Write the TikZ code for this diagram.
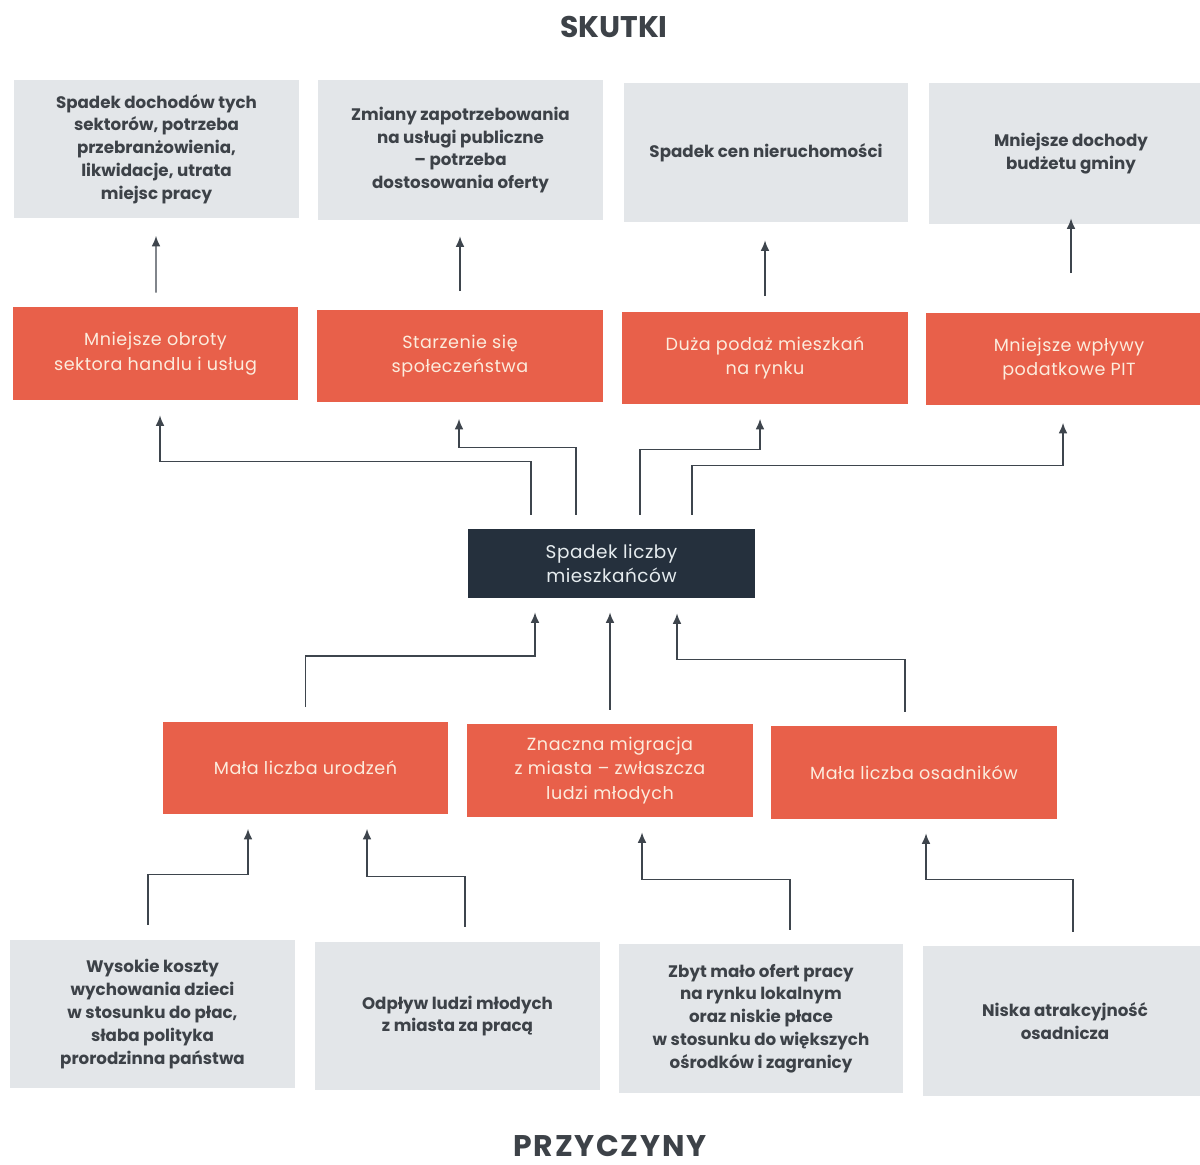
\documentclass[tikz,border=0pt]{standalone}
\usepackage{fontspec}
\setmainfont{Poppins}
\usetikzlibrary{arrows.meta,calc}
\definecolor{boxgray}{HTML}{E3E6E9}
\definecolor{boxred}{HTML}{E8604A}
\definecolor{boxdark}{HTML}{25303D}
\definecolor{txtgray}{HTML}{3D4248}
\definecolor{txtlight}{HTML}{FCECDD}
\definecolor{txtdark}{HTML}{E6ECEF}
\definecolor{linec}{HTML}{3E454D}
\begin{document}
\begin{tikzpicture}[x=0.02cm,y=-0.02cm,
  graybox/.style={fill=boxgray, text=txtgray, minimum width=5.7cm, align=center, inner sep=0pt,
    font=\fontsize{9.5}{13}\selectfont\bfseries},
  redbox/.style={fill=boxred, text=txtlight, minimum width=5.72cm, minimum height=1.86cm, align=center, inner sep=0pt,
    font=\fontsize{10}{14}\selectfont\addfontfeatures{LetterSpace=3}},
  darkbox/.style={fill=boxdark, text=txtdark, minimum width=5.74cm, minimum height=1.38cm, align=center, inner sep=0pt,
    font=\fontsize{10.5}{13.5}\selectfont\addfontfeatures{LetterSpace=3}},
  arr/.style={draw=linec, line width=0.85pt, -{Latex[length=6pt,width=5pt]}},
  title/.style={text=txtgray, font=\fontsize{17}{20}\selectfont\bfseries}]
\useasboundingbox[fill=white] (0,0) rectangle (1200,1165);

% titles
\node[title] (skutki) at (614,27) {SKUTKI};
\node[title, font=\fontsize{17}{20}\selectfont\bfseries\addfontfeatures{LetterSpace=6}] (przyczyny) at (610,1146) {PRZYCZYNY};

% top effects
\node[graybox, minimum height=2.78cm] (G1) at (156.5,149) {Spadek dochodów tych\\sektorów, potrzeba\\przebranżowienia,\\likwidacje, utrata\\miejsc pracy};
\node[graybox, minimum height=2.8cm] (G2) at (460.5,150) {Zmiany zapotrzebowania\\na usługi publiczne\\– potrzeba\\dostosowania oferty};
\node[graybox, minimum height=2.78cm] (G3) at (766,152.5) {Spadek cen nieruchomości};
\node[graybox, minimum height=2.82cm] (G4) at (1071,153.5) {Mniejsze dochody\\budżetu gminy};

% red row 1
\node[redbox] (R1) at (155.5,353.5) {Mniejsze obroty\\sektora handlu i usług};
\node[redbox] (R2) at (460,356) {Starzenie się\\społeczeństwa};
\node[redbox] (R3) at (765,358) {Duża podaż mieszkań\\na rynku};
\node[redbox] (R4) at (1069,359) {Mniejsze wpływy\\podatkowe PIT};

% center
\node[darkbox] (D) at (611.5,563.5) {Spadek liczby\\mieszkańców};

% red row 2
\node[redbox] (B1) at (305.5,768) {Mała liczba urodzeń};
\node[redbox] (B2) at (610,770.5) {Znaczna migracja\\z miasta – zwłaszcza\\ludzi młodych};
\node[redbox] (B3) at (914,772.5) {Mała liczba osadników};

% bottom causes
\node[graybox, minimum height=2.96cm] (C1) at (152.5,1014) {Wysokie koszty\\wychowania dzieci\\w stosunku do płac,\\słaba polityka\\prorodzinna państwa};
\node[graybox, minimum height=2.96cm] (C2) at (457.5,1016) {Odpływ ludzi młodych\\z miasta za pracą};
\node[graybox, minimum height=2.98cm] (C3) at (761,1018.5) {Zbyt mało ofert pracy\\na rynku lokalnym\\oraz niskie płace\\w stosunku do większych\\ośrodków i zagranicy};
\node[graybox, minimum height=3cm] (C4) at (1065,1021) {Niska atrakcyjność\\osadnicza};

% red row 1 -> effects
\draw[arr] ($(R1.north)+(0.5,-14)$) -- ($(G1.south)+(-0.5,17)$);
\draw[arr] ($(R2.north)+(0,-18)$) -- ($(G2.south)+(-0.5,16)$);
\draw[arr] ($(R3.north)+(0,-15)$) -- ($(G3.south)+(-1,18)$);
\draw[arr] ($(R4.north)+(2,-39)$) -- ($(G4.south)+(0,-6)$);

% center -> red row 1
\draw[arr] ($(D.north)+(-80.5,-14)$) -- ++(0,-53) -| ($(R1.south)+(4.5,15)$);
\draw[arr] ($(D.north)+(-35.5,-14)$) -- ++(0,-67) -| ($(R2.south)+(-1,16)$);
\draw[arr] ($(D.north)+(28.5,-14)$) -- ++(0,-65) -| ($(R3.south)+(-5,14)$);
\draw[arr] ($(D.north)+(80.5,-14)$) -- ++(0,-49) -| ($(R4.south)+(-6,17)$);

% red row 2 -> center
\draw[arr] ($(B1.north)+(0,-14)$) -- ++(0,-51) -| ($(D.south)+(-76.5,14)$);
\draw[arr] ($(B2.north)+(0,-14)$) -- ($(D.south)+(-1.5,14)$);
\draw[arr] ($(B3.north)+(-9,-14)$) -- ++(0,-52) -| ($(D.south)+(65.5,15)$);

% causes -> red row 2
\draw[arr] ($(C1.north)+(-4.5,-15)$) -- ++(0,-50) -| ($(B1.south)+(-57.5,14)$);
\draw[arr] ($(C2.north)+(7.5,-15)$) -- ++(0,-50) -| ($(B1.south)+(61.5,14)$);
\draw[arr] ($(C3.north)+(29,-14)$) -- ++(0,-50) -| ($(B2.south)+(32,15)$);
\draw[arr] ($(C4.north)+(8,-14)$) -- ++(0,-52) -| ($(B3.south)+(12,14)$);
\end{tikzpicture}
\end{document}
